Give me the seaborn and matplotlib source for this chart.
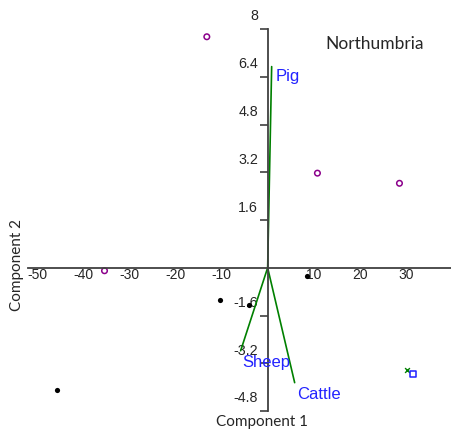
import numpy as np
import pandas as pd
import seaborn as sns
import matplotlib
matplotlib.use("Agg")
import matplotlib.pyplot as plt
from matplotlib.transforms import ScaledTranslation

# --- data ---
open_x = [-13.2, -35.4, 10.8, 28.6]
open_y = [7.74, -0.10, 3.17, 2.83]
dot_x = [8.5, -10.4, -4.1, -45.8]
dot_y = [-0.27, -1.07, -1.24, -4.09]
cross_x = [30.2]
cross_y = [-3.42]
square_x = [31.5]
square_y = [-3.55]

species = ["Pig", "Sheep", "Cattle"]
load_x = [0.87, -5.86, 5.86]
load_y = [6.74, -2.78, -3.85]

xticks = [-50, -40, -30, -20, -10, 10, 20, 30]
yticks = [-4.8, -3.2, -1.6, 1.6, 3.2, 4.8, 6.4, 8]

sns.set_style("white")
plt.rcParams['font.family'] = ['Liberation Sans', 'DejaVu Sans']

W, H = 452, 433
fig = plt.figure(figsize=(W / 100, H / 100), dpi=100)
ax = fig.add_axes([28 / W, 1 - 411 / H, (452 - 28) / W, (411 - 29) / H])

# loadings
loads = pd.DataFrame({
    "var": np.repeat(species, 2),
    "x": [v for lx in load_x for v in (0, lx)],
    "y": [v for ly in load_y for v in (0, ly)],
})
sns.lineplot(data=loads, x="x", y="y", units="var", estimator=None, sort=False,
             color="#008000", lw=1.2, ax=ax, legend=False)
offs = {"Pig": (3, -2), "Sheep": (1, -3), "Cattle": (2, -3)}
for name, lx, ly in zip(species, load_x, load_y):
    ax.annotate(name, (lx, ly), xytext=offs[name], textcoords="offset points",
                ha="left", va="top", color="#2323ff", fontsize=12)

# scores
sns.scatterplot(x=open_x, y=open_y, ax=ax, marker="o", s=16, facecolors="none",
                edgecolor="#8b008b", linewidth=1.1)
sns.scatterplot(x=dot_x, y=dot_y, ax=ax, marker="o", s=14, color="black",
                edgecolor="black", linewidth=0)
sns.scatterplot(x=cross_x, y=cross_y, ax=ax, marker="x", s=12, color="#008000",
                linewidth=1.0)
sns.scatterplot(x=square_x, y=square_y, ax=ax, marker="s", s=18, facecolors="none",
                edgecolor="#1f1fff", linewidth=1.1)

ax.set_xlim(-52, 40)
ax.set_ylim(-4.8, 8)

for side in ["top", "right"]:
    ax.spines[side].set_visible(False)
ax.spines["left"].set_position(("data", 0))
ax.spines["bottom"].set_position(("data", 0))
for side in ["left", "bottom"]:
    ax.spines[side].set_color("#404040")
    ax.spines[side].set_linewidth(1.3)

ax.set_xticks(xticks)
ax.set_xticklabels([str(t) for t in xticks])
ax.set_yticks(yticks)
ax.set_yticklabels([f"{t:g}" for t in yticks])
ax.tick_params(axis="x", bottom=False, length=0, pad=0, labelsize=10)
ax.tick_params(axis="y", left=True, direction="out", length=6, width=1.2,
               color="#404040", pad=1, labelsize=10.3)
# labels sit a little above their tick marks
shift = ScaledTranslation(0, 14 / 100, fig.dpi_scale_trans)
for lab in ax.get_yticklabels():
    lab.set_transform(lab.get_transform() + shift)
ax.set_xlabel("")
ax.set_ylabel("")

fig.text(17 / W, 1 - 265 / H, "Component 2", rotation=90, ha="center", va="center",
         fontsize=11, family=["Lato", "DejaVu Sans"])
fig.text(262 / W, 1 - 422 / H, "Component 1", ha="center", va="center",
         fontsize=11, family=["Lato", "DejaVu Sans"])
fig.text(375 / W, 1 - 44 / H, "Northumbria", ha="center", va="center",
         fontsize=12.5, family=["Lato", "DejaVu Sans"])

fig.savefig("out.png", dpi=100, facecolor="white")
